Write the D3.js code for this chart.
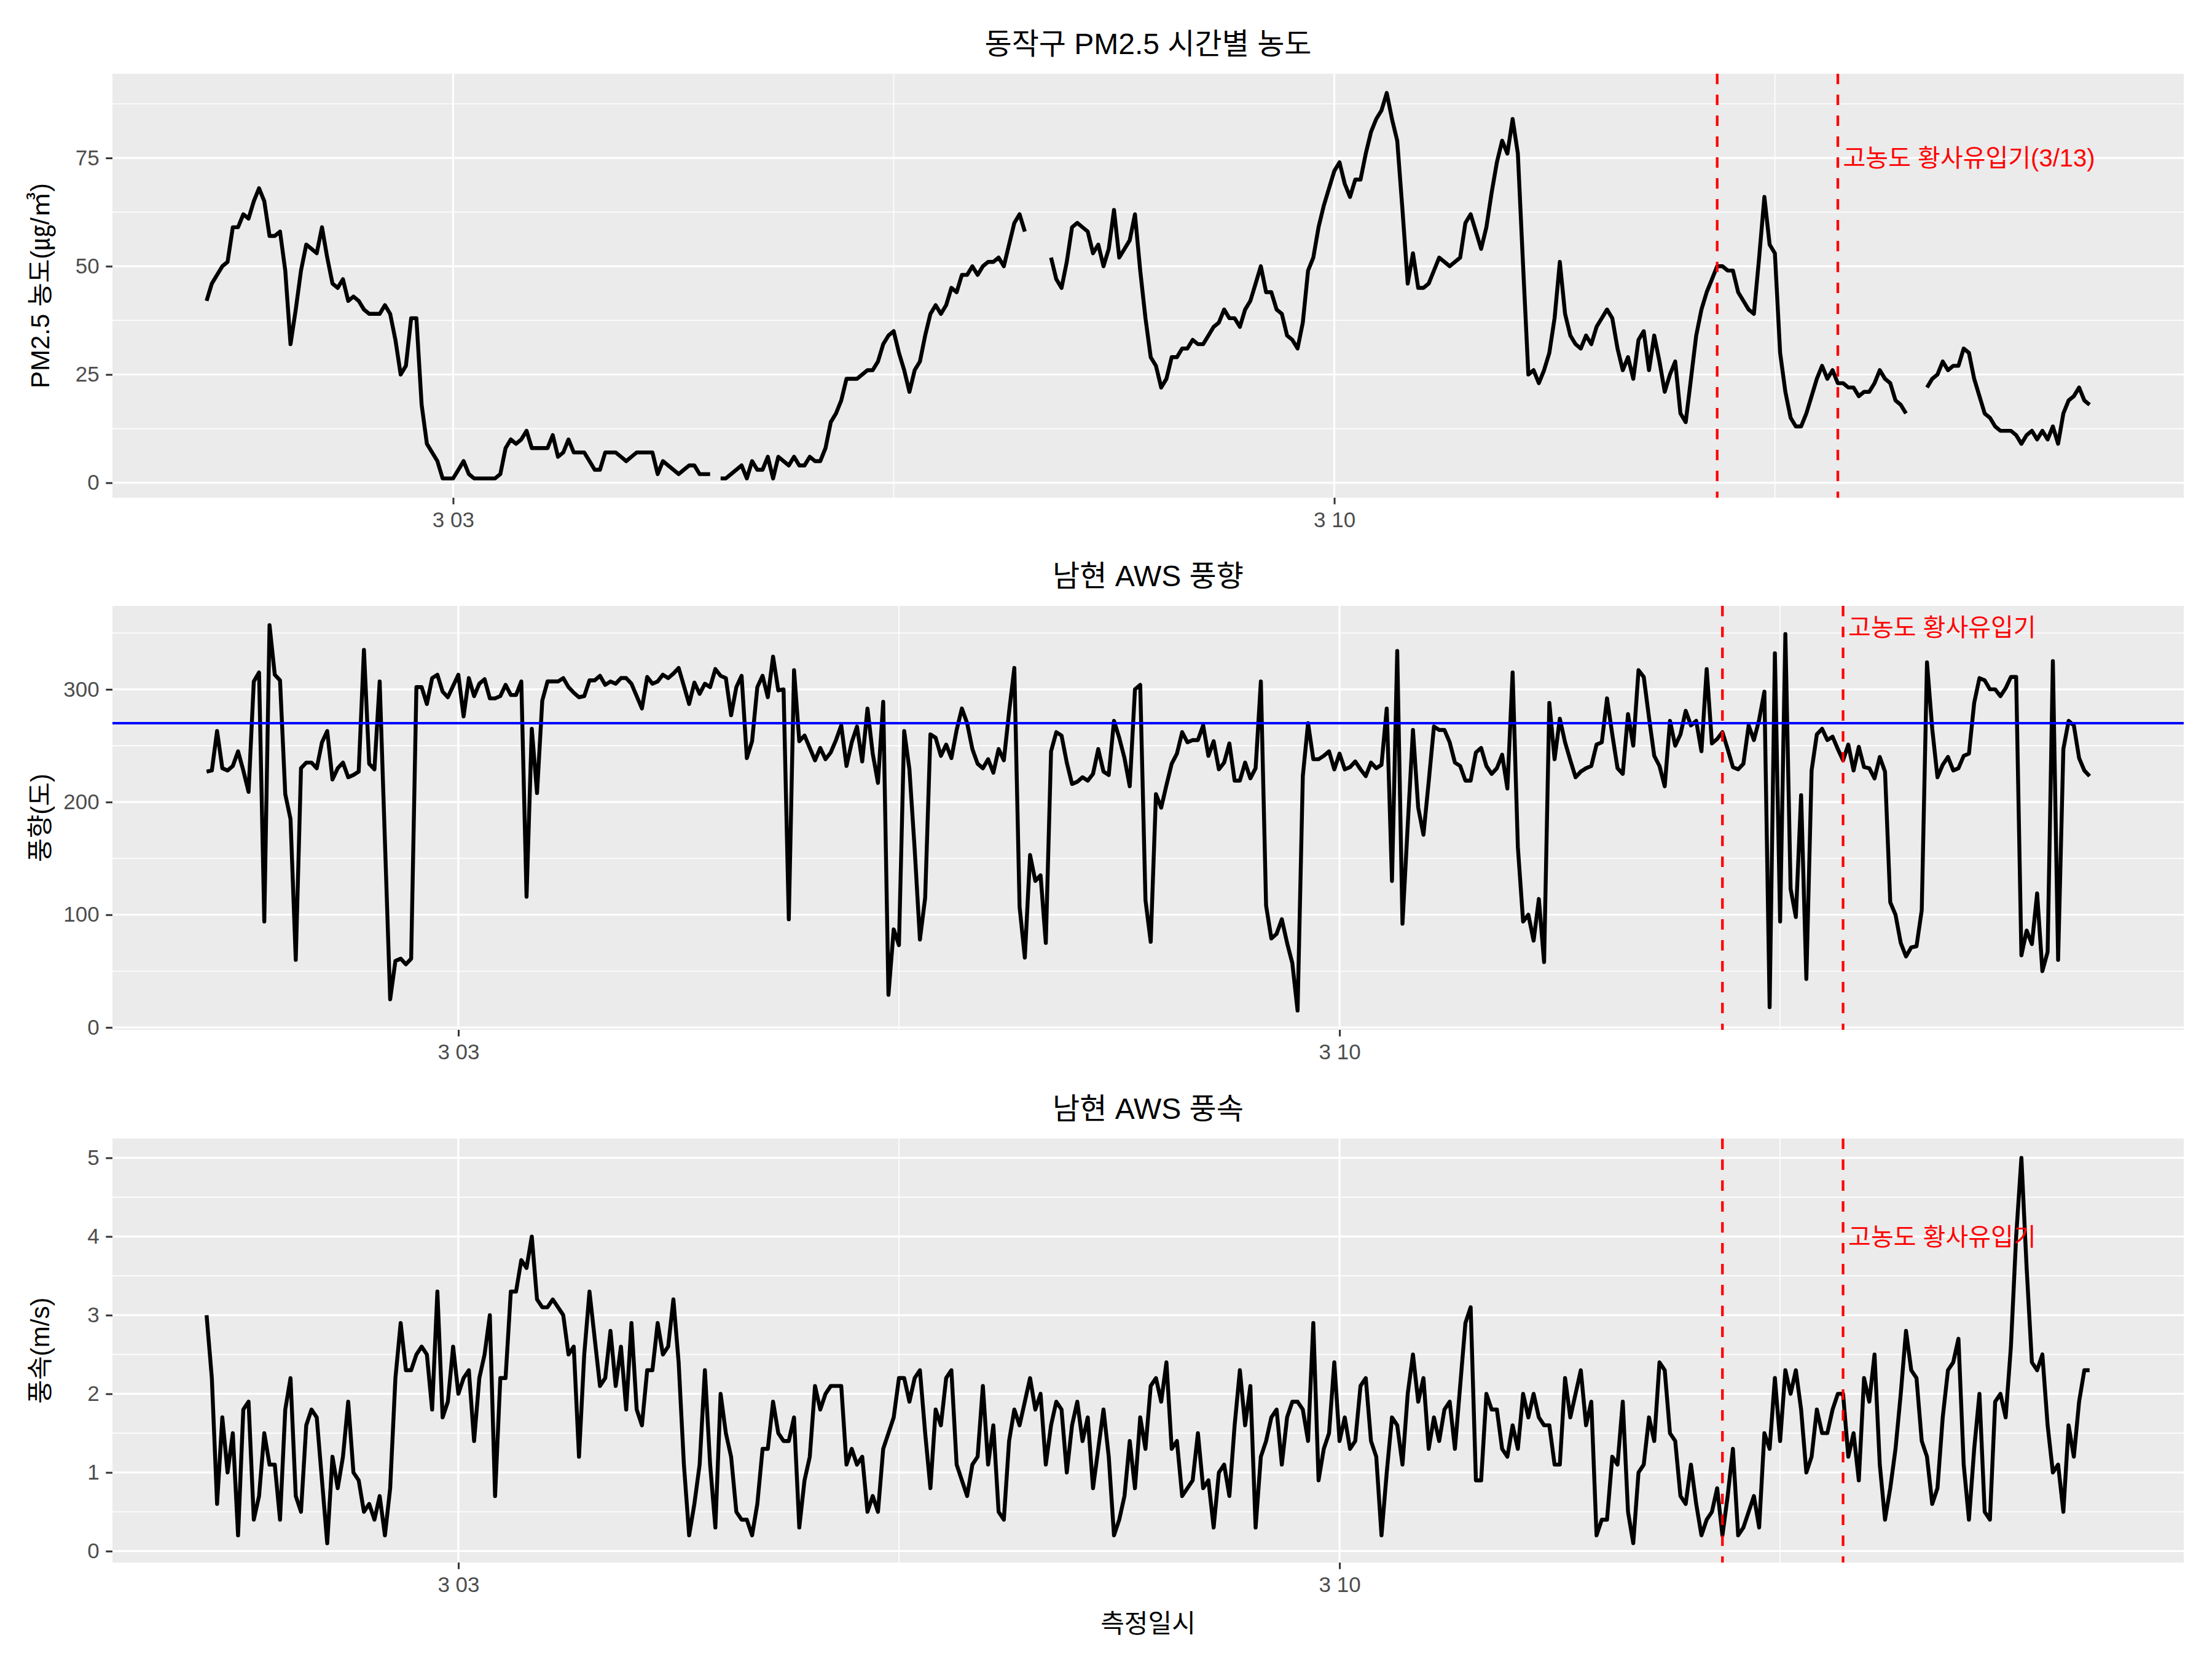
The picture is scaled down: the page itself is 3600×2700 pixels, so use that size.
<!DOCTYPE html>
<html>
<head>
<meta charset="utf-8">
<script src="https://cdn.jsdelivr.net/npm/d3@7"></script>
<style>
  body { margin: 0; background: #fff; }
  svg text { font-family: "Liberation Sans", Arial, "Noto Sans CJK KR", sans-serif; }
</style>
</head>
<body>
<div id="chart"></div>
<script>
// Hourly readings. PM2.5 starts at 3/01 01h, the AWS station one hour earlier.
const pmStart = new Date(2023, 2, 1, 1);
const windStart = new Date(2023, 2, 1, 0);

const pm25 = [
  42,46,48,50,51,59,59,62,61,65, 68,65,57,57,58,49,32,40,49,55,
  54,53,59,52,46,45,47,42,43,42, 40,39,39,39,41,39,33,25,27,38,
  38,18,9,7,5,1,1,1,3,5, 2,1,1,1,1,1,2,8,10,9,
  10,12,8,8,8,8,11,6,7,10, 7,7,7,5,3,3,7,7,7,6,
  5,6,7,7,7,7,2,5,4,3, 2,3,4,4,2,2,2,null,1,1,
  2,3,4,1,5,3,3,6,1,6, 5,4,6,4,4,6,5,5,8,14,
  16,19,24,24,24,25,26,26,28,32, 34,35,30,26,21,26,28,34,39,41,
  39,41,45,44,48,48,50,48,50,51, 51,52,50,55,60,62,58,null,null,null,
  null,52,47,45,51,59,60,59,58,53, 55,50,54,63,52,54,56,62,49,38,
  29,27,22,24,29,29,31,31,33,32, 32,34,36,37,40,38,38,36,40,42,
  46,50,44,44,40,39,34,33,31,37, 49,52,59,64,68,72,74,69,66,70,
  70,76,81,84,86,90,84,79,63,46, 53,45,45,46,49,52,51,50,51,52,
  60,62,58,54,59,67,74,79,76,84, 76,50,25,26,23,26,30,38,51,39,
  34,32,31,34,32,36,38,40,38,31, 26,29,24,33,35,26,34,28,21,25,
  28,16,14,24,34,40,44,47,50,50, 49,49,44,42,40,39,52,66,55,53,
  30,21,15,13,13,16,20,24,27,24, 26,23,23,22,22,20,21,21,23,26,
  24,23,19,18,16,null,null,null,22,24, 25,28,26,27,27,31,30,24,20,16,
  15,13,12,12,12,11,9,11,12,10, 12,10,13,9,16,19,20,22,19,18
];

const windDir = [
  227,228,263,230,228,232,245,228,209,307, 315,94,357,313,308,207,185,60,230,235,
  235,230,253,263,220,230,235,222,224,227, 335,234,229,307,165,25,59,61,56,61,
  302,302,287,310,313,298,293,303,313,276, 310,294,305,309,292,292,294,304,295,295,
  307,116,265,208,290,307,307,307,310,302, 297,293,294,308,308,312,304,307,305,310,
  310,305,294,283,311,305,307,313,310,314, 319,303,287,306,296,305,302,318,312,310,
  277,302,312,239,254,302,312,293,329,299, 300,96,317,254,259,248,237,248,238,244,
  255,268,232,253,267,236,283,243,217,289, 29,87,73,263,229,158,78,115,260,257,
  241,251,239,264,283,270,247,234,230,238, 226,247,237,280,319,107,62,153,130,135,
  75,245,262,259,235,216,218,222,219,225, 247,227,224,272,257,239,214,300,304,113,
  76,207,195,215,234,243,262,253,255,255, 268,241,254,229,235,252,219,219,235,221,
  230,307,108,79,83,96,75,57,15,223, 270,238,238,241,245,229,243,229,231,236,
  229,223,235,230,233,283,130,334,92,179, 264,195,171,218,267,264,264,253,235,232,
  219,219,244,248,232,225,230,242,212,315, 160,94,100,77,114,58,288,238,274,253,
  237,222,227,230,232,251,253,292,260,230, 225,278,250,317,311,275,241,232,214,272,
  250,260,281,268,272,245,318,252,256,262, 247,231,229,234,268,255,273,298,18,332,
  94,349,123,98,206,43,228,260,265,255, 258,247,237,251,228,249,231,230,221,240,
  227,111,100,75,63,71,72,104,324,265, 222,233,240,228,230,241,243,288,310,308,
  300,300,294,301,311,311,64,86,74,119, 50,67,325,60,247,272,268,239,228,223
];

const windSpeed = [
  3.0,2.2,0.6,1.7,1.0,1.5,0.2,1.8,1.9,0.4, 0.7,1.5,1.1,1.1,0.4,1.8,2.2,0.7,0.5,1.6,
  1.8,1.7,0.9,0.1,1.2,0.8,1.2,1.9,1.0,0.9, 0.5,0.6,0.4,0.7,0.2,0.8,2.2,2.9,2.3,2.3,
  2.5,2.6,2.5,1.8,3.3,1.7,1.9,2.6,2.0,2.2, 2.3,1.4,2.2,2.5,3.0,0.7,2.2,2.2,3.3,3.3,
  3.7,3.6,4.0,3.2,3.1,3.1,3.2,3.1,3.0,2.5, 2.6,1.2,2.5,3.3,2.7,2.1,2.2,2.8,2.1,2.6,
  1.8,2.9,1.8,1.6,2.3,2.3,2.9,2.5,2.6,3.2, 2.4,1.1,0.2,0.6,1.1,2.3,1.1,0.3,2.0,1.5,
  1.2,0.5,0.4,0.4,0.2,0.6,1.3,1.3,1.9,1.5, 1.4,1.4,1.7,0.3,0.9,1.2,2.1,1.8,2.0,2.1,
  2.1,2.1,1.1,1.3,1.1,1.2,0.5,0.7,0.5,1.3, 1.5,1.7,2.2,2.2,1.9,2.2,2.3,1.5,0.8,1.8,
  1.6,2.2,2.3,1.1,0.9,0.7,1.1,1.2,2.1,1.1, 1.6,0.5,0.4,1.4,1.8,1.6,1.9,2.2,1.8,2.0,
  1.1,1.6,1.9,1.8,1.0,1.6,1.9,1.4,1.7,0.8, 1.3,1.8,1.2,0.2,0.4,0.7,1.4,0.8,1.7,1.3,
  2.1,2.2,1.9,2.4,1.3,1.4,0.7,0.8,0.9,1.5, 0.8,0.9,0.3,1.0,1.1,0.7,1.6,2.3,1.6,2.1,
  0.3,1.2,1.4,1.7,1.8,1.1,1.7,1.9,1.9,1.8, 1.4,2.9,0.9,1.3,1.5,2.4,1.4,1.7,1.3,1.4,
  2.1,2.2,1.4,1.2,0.2,1.0,1.7,1.6,1.1,2.0, 2.5,1.9,2.2,1.3,1.7,1.4,1.8,1.9,1.3,2.1,
  2.9,3.1,0.9,0.9,2.0,1.8,1.8,1.3,1.2,1.6, 1.3,2.0,1.7,2.0,1.7,1.6,1.6,1.1,1.1,2.2,
  1.7,2.0,2.3,1.6,1.9,0.2,0.4,0.4,1.2,1.1, 1.9,0.5,0.1,1.0,1.1,1.7,1.4,2.4,2.3,1.5,
  1.4,0.7,0.6,1.1,0.6,0.2,0.4,0.5,0.8,0.2, 0.7,1.3,0.2,0.3,0.5,0.7,0.3,1.5,1.3,2.2,
  1.4,2.3,2.0,2.3,1.8,1.0,1.2,1.8,1.5,1.5, 1.8,2.0,2.0,1.2,1.5,0.9,2.2,1.9,2.5,1.1,
  0.4,0.8,1.3,2.0,2.8,2.3,2.2,1.4,1.2,0.6, 0.8,1.7,2.3,2.4,2.7,1.1,0.4,1.3,2.0,0.5,
  0.4,1.9,2.0,1.7,2.6,4.0,5.0,3.6,2.4,2.3, 2.5,1.6,1.0,1.1,0.5,1.6,1.2,1.9,2.3,2.3
];

// axis breaks
const xTickDates = [new Date(2023, 2, 3), new Date(2023, 2, 10)];
const xMinorDates = [new Date(2023, 2, 6, 12), new Date(2023, 2, 13, 12)];
const pmTicks = [0, 25, 50, 75];
const pmMinor = [12.5, 37.5, 62.5, 87.5];
const dirTicks = [0, 100, 200, 300];
const dirMinor = [50, 150, 250, 350];
const speedTicks = [0, 1, 2, 3, 4, 5];
const speedMinor = [0.5, 1.5, 2.5, 3.5, 4.5];

// yellow dust period (3/13 01h ~ 24h)
const dustStart = new Date(2023, 2, 13, 1);
const dustEnd = new Date(2023, 2, 14, 0);
const dirReference = 270;

const panelTitles = ["동작구 PM2.5 시간별 농도", "남현 AWS 풍향", "남현 AWS 풍속"];
const yTitles = ["PM2.5 농도(㎍/㎥)", "풍향(도)", "풍속(m/s)"];
const dustLabels = ["고농도 황사유입기(3/13)", "고농도 황사유입기", "고농도 황사유입기"];
const dustLabelY = [75, 355, 4];
const xTitle = "측정일시";

// layout
const width = 3600, height = 2700;
const plotLeft = 183, plotRight = 3554;
const panelTops = [120, 986, 1853];
const panelH = 690;

const svg = d3.select("#chart").append("svg")
    .attr("width", width)
    .attr("height", height);

const panels = [
  { values: pm25, start: pmStart, ticks: pmTicks, minor: pmMinor },
  { values: windDir, start: windStart, ticks: dirTicks, minor: dirMinor, hline: dirReference },
  { values: windSpeed, start: windStart, ticks: speedTicks, minor: speedMinor }
];

// ggplot style 5% expansion
function expand(ext) {
  const pad = (ext[1] - ext[0]) * 0.05;
  return [ext[0] - pad, ext[1] + pad];
}

panels.forEach((p, i) => {
  const top = panelTops[i];
  const bottom = top + panelH;
  const series = p.values.map((v, j) => ({ t: d3.timeHour.offset(p.start, j), v: v }));

  const tExt = d3.extent(series, d => d.t);
  const tPad = (tExt[1] - tExt[0]) * 0.05;
  const x = d3.scaleTime()
      .domain([new Date(+tExt[0] - tPad), new Date(+tExt[1] + tPad)])
      .range([plotLeft, plotRight]);
  const y = d3.scaleLinear()
      .domain(expand(d3.extent(p.values.filter(v => v != null))))
      .range([bottom, top]);

  const g = svg.append("g");

  // panel background
  g.append("rect")
      .attr("x", plotLeft).attr("y", top)
      .attr("width", plotRight - plotLeft).attr("height", panelH)
      .attr("fill", "#EBEBEB");

  // grid
  g.selectAll(".ymin").data(p.minor).join("line")
      .attr("x1", plotLeft).attr("x2", plotRight)
      .attr("y1", d => y(d)).attr("y2", d => y(d))
      .attr("stroke", "#fff").attr("stroke-width", 1.6);
  g.selectAll(".xmin").data(xMinorDates).join("line")
      .attr("x1", d => x(d)).attr("x2", d => x(d))
      .attr("y1", top).attr("y2", bottom)
      .attr("stroke", "#fff").attr("stroke-width", 1.6);
  g.selectAll(".ymaj").data(p.ticks).join("line")
      .attr("x1", plotLeft).attr("x2", plotRight)
      .attr("y1", d => y(d)).attr("y2", d => y(d))
      .attr("stroke", "#fff").attr("stroke-width", 3.2);
  g.selectAll(".xmaj").data(xTickDates).join("line")
      .attr("x1", d => x(d)).attr("x2", d => x(d))
      .attr("y1", top).attr("y2", bottom)
      .attr("stroke", "#fff").attr("stroke-width", 3.2);

  // data line
  const line = d3.line()
      .defined(d => d.v != null)
      .x(d => x(d.t))
      .y(d => y(d.v));
  g.append("path")
      .datum(series)
      .attr("d", line)
      .attr("fill", "none")
      .attr("stroke", "#000")
      .attr("stroke-width", 6.4)
      .attr("stroke-linejoin", "round");

  if (p.hline != null) {
    g.append("line")
        .attr("x1", plotLeft).attr("x2", plotRight)
        .attr("y1", y(p.hline)).attr("y2", y(p.hline))
        .attr("stroke", "#0000FF").attr("stroke-width", 4);
  }

  // dust period markers
  g.selectAll(".vline").data([dustStart, dustEnd]).join("line")
      .attr("x1", d => x(d)).attr("x2", d => x(d))
      .attr("y1", top).attr("y2", bottom)
      .attr("stroke", "#FF0000").attr("stroke-width", 4.3)
      .attr("stroke-dasharray", "17,17");

  g.append("text")
      .attr("x", x(d3.timeHour.offset(dustEnd, 1)))
      .attr("y", y(dustLabelY[i]))
      .attr("dy", "0.36em")
      .attr("font-size", 40)
      .attr("font-family", "'DejaVu Sans', 'Noto Sans CJK KR', sans-serif")
      .attr("fill", "#FF0000")
      .text(dustLabels[i]);

  // axes
  const yAxis = g.append("g")
      .attr("transform", `translate(${plotLeft},0)`)
      .call(d3.axisLeft(y).tickValues(p.ticks).tickFormat(d3.format("~g"))
          .tickSize(10.7).tickPadding(10.6));
  const xAxis = g.append("g")
      .attr("transform", `translate(0,${bottom})`)
      .call(d3.axisBottom(x).tickValues(xTickDates)
          .tickFormat(d3.timeFormat("%-m %d")).tickSize(10.7).tickPadding(12));
  [yAxis, xAxis].forEach(a => {
    a.select(".domain").remove();
    a.selectAll(".tick line").attr("stroke", "#333333").attr("stroke-width", 3);
    a.selectAll(".tick text")
        .attr("fill", "#4D4D4D")
        .attr("font-size", 35)
        .attr("font-family", null);
  });

  // titles
  g.append("text")
      .attr("x", (plotLeft + plotRight) / 2)
      .attr("y", top - 32)
      .attr("text-anchor", "middle")
      .attr("font-size", 48)
      .text(panelTitles[i]);

  g.append("text")
      .attr("transform", `translate(80,${top + panelH / 2}) rotate(-90)`)
      .attr("text-anchor", "middle")
      .attr("font-size", 42)
      .text(yTitles[i]);
});

svg.append("text")
    .attr("x", (plotLeft + plotRight) / 2)
    .attr("y", 2657)
    .attr("text-anchor", "middle")
    .attr("font-size", 42)
    .text(xTitle);
</script>
</body>
</html>
